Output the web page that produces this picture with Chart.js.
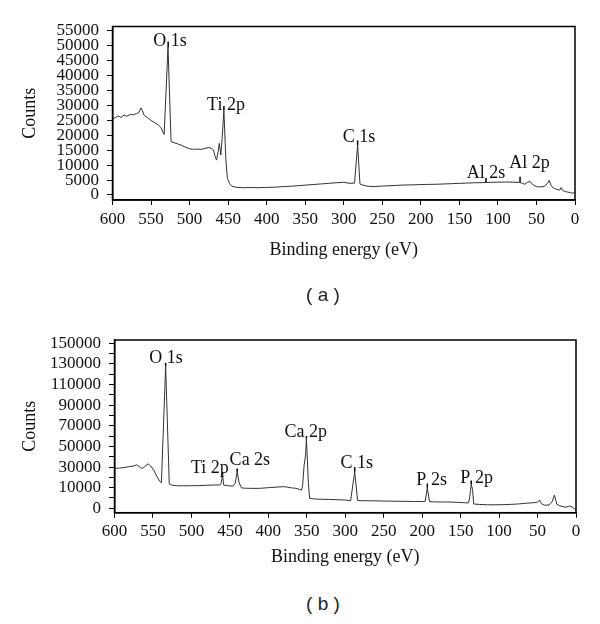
<!DOCTYPE html>
<html>
<head>
<meta charset="utf-8">
<script src="https://cdn.jsdelivr.net/npm/chart.js@4.4.0/dist/chart.umd.min.js"></script>
<style>
  html, body { margin: 0; padding: 0; background: #fff; }
  body { width: 600px; height: 624px; position: relative; overflow: hidden; }
  .panel { position: absolute; left: 0; width: 600px; height: 275px; }
  .cap { position: absolute; width: 80px; text-align: center; font-family: "Liberation Sans", Arial, sans-serif; font-size: 19px; color: #222; }
</style>
</head>
<body>
<div class="panel" style="top:0"><canvas id="chartA" width="600" height="275"></canvas></div>
<div class="panel" style="top:300px"><canvas id="chartB" width="600" height="275"></canvas></div>
<div class="cap" style="left:283px;top:284px">( a )</div>
<div class="cap" style="left:283px;top:593px">( b )</div>

<script>
// ---- data (a): survey spectrum, binding energy (eV) vs counts
const energyA = [600, 596, 592, 589, 585, 581, 577, 573, 569, 566, 563, 561, 559, 555, 550, 545, 540, 537, 534,
  533, 528, 524, 520, 516, 510, 505, 500, 495, 490, 485, 480, 475, 472, 469, 467, 465, 463, 461.5, 459.5,
  457.5, 455.5, 453, 451, 448, 445, 440, 430, 420, 410, 400, 390, 380, 370, 360, 350, 340, 330, 320, 310,
  300, 292, 286, 282, 279, 275, 270, 262, 250, 240, 230, 220, 210, 200, 190, 180, 170, 160, 150, 140, 130,
  120, 110, 100, 90, 80, 72, 68, 65, 62, 58.5, 55, 50, 45, 40, 36, 33.5, 31, 28, 24, 20, 18, 16, 12, 6, 3, 0];
const countsA = [25400, 26000, 26500, 26000, 26800, 26400, 27000, 26900, 27300, 27600, 29200, 28200, 26700, 26000, 25000, 24200, 23400, 22500, 20800,
  20300, 49600, 17900, 17500, 17200, 16600, 16000, 15500, 15300, 15400, 15300, 15600, 15900, 15700, 15100, 13000, 11700, 14500, 17300, 13400,
  20000, 28500, 12000, 5600, 3800, 2900, 2600, 2450, 2500, 2450, 2550, 2600, 2800, 2900, 3100, 3300, 3500, 3700, 3900, 4100,
  4250, 3900, 4000, 16800, 3700, 3300, 3000, 2800, 3000, 3100, 3250, 3350, 3400, 3500, 3550, 3600, 3700, 3800, 3900, 4000, 4100,
  4150, 4250, 4300, 4350, 4300, 4200, 3900, 3600, 4200, 4600, 3500, 2800, 2700, 2900, 3800, 4900, 3200, 2300, 1900, 1600, 2500, 1500, 1100, 800, 600, 900];

// ---- data (b): values are read against the printed axis (ticks every 10000 of axis units,
// labels 0, 10000, 30000 ... 150000 sit on every second tick)
const energyB = [600, 595, 590, 585, 580, 575, 571, 568, 565, 562, 559, 556, 553, 549, 545, 541, 539,
  533.5, 528.8, 525, 519, 510, 500, 490, 480, 470, 463, 461.5, 459.5, 458, 452, 446, 443, 440.5, 438, 435,
  430, 420, 410, 400, 390, 380, 375, 370, 365, 360, 357, 355.4, 353.6, 351.5, 350.5, 348, 346.4, 340, 330,
  320, 310, 300, 293, 287.7, 284, 280, 270, 260, 250, 240, 230, 220, 210, 200, 196, 193.3, 190.5, 185, 175,
  165, 155, 145, 140, 138.5, 136.2, 134.5, 133, 125, 115, 105, 95, 85, 75, 65, 58, 52, 50, 47.5, 45, 41,
  35, 31, 28, 25, 21, 17, 13, 10, 8, 5, 2, 0];
const countsB = [38800, 39000, 39300, 39800, 40500, 41000, 42200, 40500, 38800, 39500, 41500, 43000, 41000, 37000, 31000, 26000, 25000,
  138000, 23600, 22400, 21900, 21800, 21900, 22000, 22300, 22600, 22600, 24000, 32300, 22500, 21800, 21500, 24500, 35500, 25000, 19800,
  19500, 19300, 19400, 20000, 20500, 21000, 20500, 19800, 19500, 18500, 17500, 22000, 41000, 52000, 67900, 25000, 9700, 9000, 8700,
  8600, 8300, 8000, 7400, 35500, 7800, 7400, 7300, 7200, 7000, 6900, 6800, 6700, 6600, 6600, 6800, 20000, 6500, 6200, 6100,
  6100, 5800, 5400, 5200, 9000, 23300, 18000, 4200, 3700, 3400, 3400, 3500, 3800, 4200, 4900, 5300, 5600, 6000, 8000, 4500, 3000,
  3200, 6500, 12900, 4000, 2300, 1700, 1000, 1800, 2200, 1200, -500, -1600];

const xTicks = [600, 550, 500, 450, 400, 350, 300, 250, 200, 150, 100, 50, 0];
const yTicksA = [0, 5000, 10000, 15000, 20000, 25000, 30000, 35000, 40000, 45000, 50000, 55000];
const yTicksB = [0, 10000, 20000, 30000, 40000, 50000, 60000, 70000, 80000, 90000, 100000, 110000, 120000, 130000, 140000, 150000, 160000];
const yLabelsB = ['0', '10000', '30000', '50000', '70000', '90000', '110000', '130000', '150000'];

// peak labels: text, energy, counts (anchor of the text centre)
const peakTextA = ['O 1s', 'Ti 2p', 'C 1s', 'Al 2s', 'Al 2p'];
const peakEA = [525.4, 452.8, 280.2, 115.5, 59];
const peakYA = [51600, 30200, 19400, 7300, 10600];
// small marker strokes above peaks: energy, from, to
const markEA = [527.8, 455.5, 282, 115.5, 71.3];
const markFromA = [49500, 28500, 16800, 4300, 4300];
const markToA = [51500, 29800, 18300, 5700, 6100];

const peakTextB = ['O 1s', 'Ti 2p', 'Ca 2s', 'Ca 2p', 'C 1s', 'P 2s', 'P 2p'];
const peakEB = [533.1, 476, 424, 351.3, 285, 187.7, 129.2];
const peakYB = [145700, 39100, 46800, 74000, 43900, 27500, 29400];
const markEB = [533.5, 459.5, 440.5, 350.5, 287.7, 193.3, 136.2];
const markFromB = [138000, 32300, 35500, 67900, 35500, 20000, 23300];
const markToB = [141000, 35000, 38500, 70000, 40000, 24000, 27000];

Chart.defaults.font.family = '"Liberation Serif", "DejaVu Serif", serif';
Chart.defaults.color = '#111';

const framePlugin = {
  id: 'frame',
  afterDatasetsDraw(chart, args, opts) {
    const { ctx, chartArea: a, scales: { x, y } } = chart;
    ctx.save();
    ctx.strokeStyle = '#000';
    ctx.lineWidth = 1.5;
    ctx.strokeRect(a.left, a.top, a.right - a.left, a.bottom - a.top);
    // peak markers
    ctx.lineWidth = 1.5;
    opts.markE.forEach((e, i) => {
      const px = x.getPixelForValue(e);
      ctx.beginPath();
      ctx.moveTo(px, y.getPixelForValue(opts.markFrom[i]));
      ctx.lineTo(px, y.getPixelForValue(opts.markTo[i]));
      ctx.stroke();
    });
    // peak labels
    ctx.fillStyle = '#111';
    ctx.font = '18px "Liberation Serif", serif';
    ctx.textAlign = 'center';
    ctx.textBaseline = 'middle';
    opts.text.forEach((t, i) => {
      ctx.fillText(t, x.getPixelForValue(opts.textE[i]), y.getPixelForValue(opts.textY[i]));
    });
    ctx.restore();
  }
};

function makeChart(id, energy, counts, cfg) {
  return new Chart(document.getElementById(id), {
    type: 'line',
    data: {
      datasets: [{
        data: energy.map((e, i) => ({ x: e, y: counts[i] })),
        borderColor: '#333',
        borderWidth: 1,
        pointRadius: 0,
        tension: 0,
        fill: false
      }]
    },
    options: {
      responsive: false,
      animation: false,
      devicePixelRatio: 1,
      layout: { padding: cfg.padding },
      plugins: {
        legend: { display: false },
        tooltip: { enabled: false },
        frame: cfg.marks
      },
      scales: {
        x: {
          type: 'linear',
          reverse: true,
          min: 0, max: 600,
          afterBuildTicks: s => { s.ticks = xTicks.map(v => ({ value: v })); },
          afterFit: s => { s.height = cfg.xHeight; },
          grid: { drawOnChartArea: false, color: '#000', tickLength: 5 },
          border: { color: '#000', width: 1.5 },
          ticks: { autoSkip: false, maxRotation: 0, padding: 4, font: { size: 17 }, callback: v => String(v) },
          title: { display: true, text: 'Binding energy (eV)', font: { size: 18 }, padding: 0 }
        },
        y: {
          min: cfg.yMin, max: cfg.yMax,
          afterBuildTicks: s => { s.ticks = cfg.yTicks.map(v => ({ value: v })); },
          afterFit: s => { s.width = cfg.yWidth; },
          grid: { drawOnChartArea: false, color: '#000', tickLength: 5.5 },
          border: { color: '#000', width: 1.5 },
          ticks: { autoSkip: false, padding: 8, font: { size: 17 }, callback: cfg.yLabel },
          title: { display: true, text: 'Counts', font: { size: 18 }, padding: { top: 19, bottom: 0 } }
        }
      }
    },
    plugins: [framePlugin]
  });
}

makeChart('chartA', energyA, countsA, {
  padding: { top: 26.5, right: 25, left: 0, bottom: 14.2 },
  xHeight: 60.8, yWidth: 112.5,
  yMin: -1680, yMax: 56500,
  yTicks: yTicksA,
  yLabel: v => String(v),
  marks: { text: peakTextA, textE: peakEA, textY: peakYA, markE: markEA, markFrom: markFromA, markTo: markToA }
});

makeChart('chartB', energyB, countsB, {
  padding: { top: 40, right: 24, left: 0, bottom: 7.2 },
  xHeight: 55.1, yWidth: 114.5,
  yMin: -4270, yMax: 163200,
  yTicks: yTicksB,
  yLabel: (v, i) => (i % 2 === 0 ? yLabelsB[i / 2] : ''),
  marks: { text: peakTextB, textE: peakEB, textY: peakYB, markE: markEB, markFrom: markFromB, markTo: markToB }
});
</script>
</body>
</html>
